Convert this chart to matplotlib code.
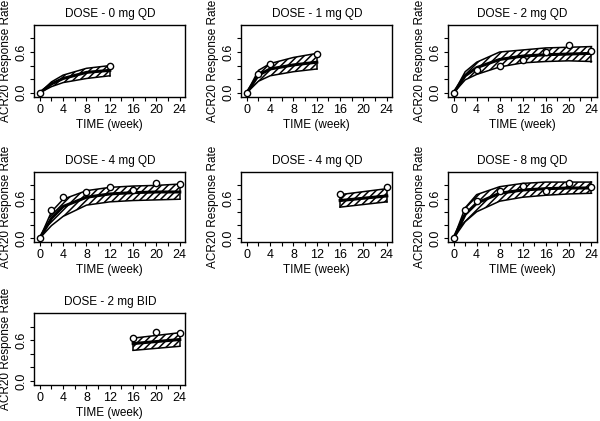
import numpy as np
import matplotlib
matplotlib.use("Agg")
import matplotlib.pyplot as plt

plt.rcParams['font.family'] = ['Liberation Sans', 'DejaVu Sans']
plt.rcParams['hatch.linewidth'] = 1.1

titles = ["DOSE - 0 mg QD", "DOSE - 1 mg QD", "DOSE - 2 mg QD",
          "DOSE - 4 mg QD", "DOSE - 4 mg QD", "DOSE - 8 mg QD",
          "DOSE - 2 mg BID"]

# observed response rates
obs_weeks = [
    [0, 12],
    [0, 2, 4, 12],
    [0, 4, 8, 12, 16, 20, 24],
    [0, 2, 4, 8, 12, 16, 20, 24],
    [16, 24],
    [0, 2, 4, 8, 12, 16, 20, 24],
    [16, 20, 24],
]
obs_rate = [
    [0.0, 0.39],
    [0.0, 0.27, 0.42, 0.57],
    [0.0, 0.33, 0.40, 0.48, 0.60, 0.71, 0.61],
    [0.0, 0.43, 0.62, 0.70, 0.77, 0.73, 0.84, 0.82],
    [0.67, 0.77],
    [0.0, 0.43, 0.56, 0.72, 0.79, 0.72, 0.83, 0.78],
    [0.63, 0.72, 0.71],
]

# model predicted median and interval
pred_weeks = [
    [0, 2, 4, 8, 12],
    [0, 2, 4, 8, 12],
    [0, 2, 4, 8, 12, 16, 20, 24],
    [0, 2, 4, 8, 12, 16, 20, 24],
    [16, 24],
    [0, 2, 4, 8, 12, 16, 20, 24],
    [16, 24],
]
pred_med = [
    [0.0, 0.13, 0.21, 0.30, 0.33],
    [0.0, 0.26, 0.35, 0.41, 0.45],
    [0.0, 0.25, 0.37, 0.49, 0.54, 0.56, 0.57, 0.58],
    [0.0, 0.30, 0.48, 0.62, 0.67, 0.69, 0.70, 0.70],
    [0.57, 0.64],
    [0.0, 0.36, 0.53, 0.68, 0.73, 0.75, 0.76, 0.76],
    [0.55, 0.61],
]
pred_lo = [
    [0.0, 0.09, 0.15, 0.21, 0.25],
    [0.0, 0.17, 0.25, 0.31, 0.35],
    [0.0, 0.19, 0.27, 0.38, 0.44, 0.46, 0.47, 0.46],
    [0.0, 0.19, 0.33, 0.50, 0.55, 0.57, 0.58, 0.59],
    [0.47, 0.55],
    [0.0, 0.25, 0.40, 0.56, 0.62, 0.65, 0.67, 0.68],
    [0.45, 0.51],
]
pred_hi = [
    [0.0, 0.16, 0.26, 0.36, 0.40],
    [0.0, 0.33, 0.43, 0.52, 0.58],
    [0.0, 0.31, 0.45, 0.60, 0.63, 0.66, 0.67, 0.68],
    [0.0, 0.40, 0.59, 0.72, 0.77, 0.79, 0.80, 0.82],
    [0.66, 0.75],
    [0.0, 0.46, 0.66, 0.78, 0.83, 0.85, 0.85, 0.85],
    [0.63, 0.71],
]

fig = plt.figure(figsize=(6, 4.21), dpi=100)
cols = [(0.057, 0.252), (0.402, 0.252), (0.747, 0.248)]
rows = [(0.770, 0.171), (0.425, 0.166), (0.0855, 0.171)]

for i, title in enumerate(titles):
    r, c = divmod(i, 3)
    ax = fig.add_axes([cols[c][0], rows[r][0], cols[c][1], rows[r][1]])
    w = np.array(pred_weeks[i])
    lo = np.array(pred_lo[i])
    md = np.array(pred_med[i])
    hi = np.array(pred_hi[i])
    ax.fill_between(w, lo, md, facecolor='white', edgecolor='black', hatch='/////', linewidth=0)
    ax.fill_between(w, md, hi, facecolor='white', edgecolor='black', hatch='/////', linewidth=0)
    ax.plot(w, lo, color='black', lw=1.1)
    ax.plot(w, hi, color='black', lw=1.1)
    ax.plot(w, md, color='black', lw=2.2)
    ax.plot([w[-1], w[-1]], [lo[-1], hi[-1]], color='black', lw=1.1)
    if w[0] > 0:
        ax.plot([w[0], w[0]], [lo[0], hi[0]], color='black', lw=1.1)
    ax.plot(obs_weeks[i], obs_rate[i], 'o', ms=4.5, mfc='white', mec='black', mew=1.0, zorder=5)

    ax.set_xlim(-0.96, 24.96)
    ax.set_ylim(-0.06, 1.0)
    ax.set_xticks(np.arange(0, 25, 2))
    ax.set_xticklabels([str(t) if t % 4 == 0 else '' for t in range(0, 25, 2)], fontsize=9)
    ax.set_yticks([0.0, 0.2, 0.4, 0.6, 0.8])
    ax.set_yticklabels(['0.0', '', '', '0.6', ''], fontsize=9, rotation=90, va='center')
    ax.tick_params(direction='out', length=3, width=0.8, pad=2)
    ax.set_title(title, fontsize=8.5, pad=6)
    ax.set_xlabel('TIME (week)', fontsize=8.5, labelpad=2)
    ax.set_ylabel('ACR20 Response Rate', fontsize=8.5, labelpad=2)
    for s in ax.spines.values():
        s.set_linewidth(1.0)

fig.savefig('out.png', dpi=100)
